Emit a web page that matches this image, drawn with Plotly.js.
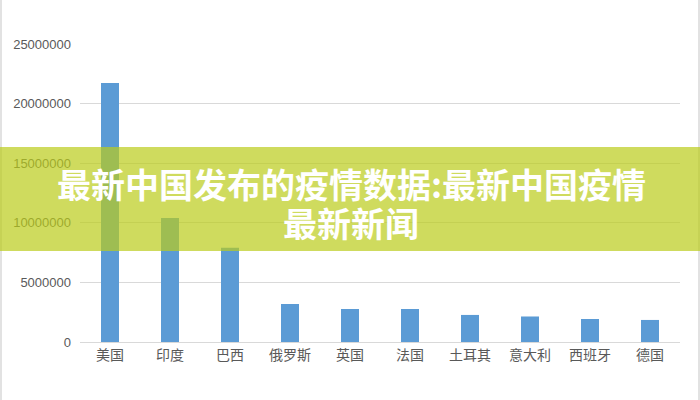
<!DOCTYPE html>
<html>
<head>
<meta charset="utf-8">
<script src="https://cdn.plot.ly/plotly-3.0.1.min.js"></script>
<style>html,body{margin:0;padding:0;background:#fff;}#chart{width:700px;height:400px;}</style>
</head>
<body>
<div id="chart"></div>
<script>
const categories = ["美国","印度","巴西","俄罗斯","英国","法国","土耳其","意大利","西班牙","德国"];
const cases = [21730000, 10400000, 7900000, 3190000, 2770000, 2770000, 2270000, 2140000, 1930000, 1850000];
const yTicks = [0, 5000000, 10000000, 15000000, 20000000, 25000000];
const bannerLines = ["最新中国发布的疫情数据:最新中国疫情", "最新新闻"];

const L = 80, R = 20, T = 44, B = 58, W = 700, H = 400;
const pw = W - L - R, ph = H - T - B;
const px = x => (x - L) / pw;
const py = y => (H - B - y) / ph;

const trace = {
  type: 'bar',
  x: categories,
  y: cases,
  marker: {color: '#5b9bd5'},
  hoverinfo: 'x+y'
};

const bannerFont = {family: '"Noto Sans CJK SC", sans-serif', size: 34, color: '#ffffff', weight: 'bold'};

const layout = {
  width: W, height: H,
  margin: {l: L, r: R, t: T, b: B},
  paper_bgcolor: '#ffffff',
  plot_bgcolor: '#ffffff',
  showlegend: false,
  bargap: 0.7,
  font: {family: 'Liberation Sans, "Noto Sans CJK SC", sans-serif', color: '#595959'},
  xaxis: {
    type: 'category',
    tickfont: {size: 14, family: '"Noto Sans CJK SC", sans-serif', color: '#595959'},
    showline: true, linecolor: '#d9d9d9', linewidth: 1,
    ticks: '', showgrid: false
  },
  yaxis: {
    range: [0, 25000000],
    tickvals: yTicks,
    ticktext: yTicks.map(v => String(v)),
    tickfont: {size: 13, color: '#595959'},
    showgrid: true, gridcolor: '#d9d9d9', gridwidth: 1,
    zeroline: false, showline: false, ticks: '',
    ticklabelstandoff: 8
  },
  shapes: [
    {type: 'line', xref: 'paper', yref: 'paper', x0: px(1), x1: px(1), y0: py(0), y1: py(400), line: {color: '#d9d9d9', width: 1.5}},
    {type: 'line', xref: 'paper', yref: 'paper', x0: px(699), x1: px(699), y0: py(0), y1: py(400), line: {color: '#d9d9d9', width: 1.5}},
    {type: 'rect', xref: 'paper', yref: 'paper', layer: 'above',
     x0: px(0), x1: px(700), y0: py(251), y1: py(147),
     fillcolor: 'rgba(186,204,26,0.7)', line: {width: 0}}
  ],
  annotations: [
    {xref: 'paper', yref: 'paper', x: px(351), y: py(183), xanchor: 'center', yanchor: 'middle',
     text: '<b>' + bannerLines[0] + '</b>', showarrow: false, font: bannerFont},
    {xref: 'paper', yref: 'paper', x: px(351), y: py(222), xanchor: 'center', yanchor: 'middle',
     text: '<b>' + bannerLines[1] + '</b>', showarrow: false, font: bannerFont}
  ]
};

Plotly.newPlot('chart', [trace], layout, {displayModeBar: false, staticPlot: true});
</script>
</body>
</html>
